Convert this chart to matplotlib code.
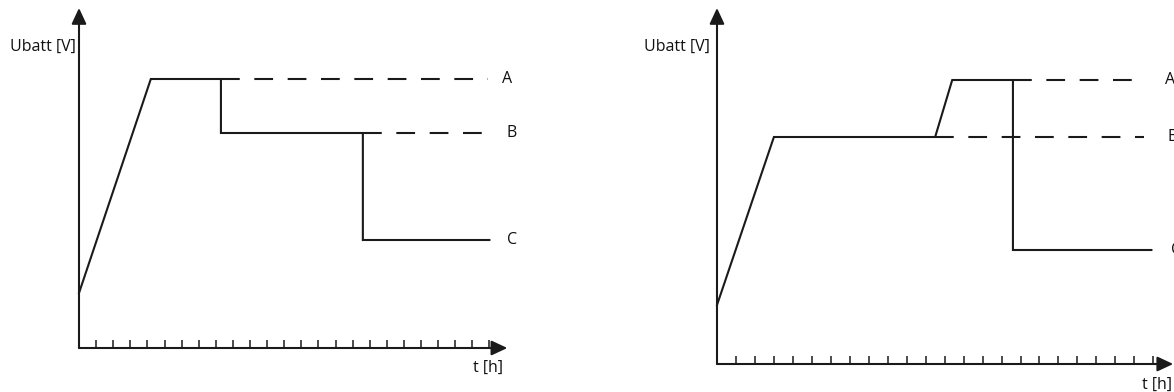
import matplotlib
matplotlib.use("Agg")
import matplotlib.pyplot as plt

plt.rcParams['font.family'] = ['Open Sans', 'DejaVu Sans']

# ---------------- data (time in tick units [h], voltage in arbitrary units) ----------
# Left panel
left_t = [0, 4.2, 8.3, 8.3, 16.6, 16.6, 24.0]
left_u = [5.5, 26.9, 26.9, 21.5, 21.5, 10.8, 10.8]
left_dash_a_t = [8.3, 23.9]
left_dash_b_t = [16.6, 23.9]
left_levels = {"A": 26.9, "B": 21.5, "C": 10.8}
left_ticks = list(range(1, 25))

# Right panel
right_t = [0, 3.0, 11.5, 12.4, 15.6, 15.6, 22.9]
right_u = [5.9, 22.7, 22.7, 28.4, 28.4, 11.4, 11.4]
right_dash_a_t = [15.6, 22.5]
right_dash_b_t = [11.5, 22.5]
right_levels = {"A": 28.4, "B": 22.7, "C": 11.4}
right_ticks = list(range(1, 24))

y_label = "Ubatt [V]"
x_label = "t [h]"

W, H = 1174, 392
DPI = 100
fig = plt.figure(figsize=(W / DPI, H / DPI), dpi=DPI)
fig.patch.set_facecolor("white")

COL = "#1a1a1a"
TXT = "#111111"
LW = 1.5
DASH = (0, (9.0, 7.0))
FS = 11.5


def make_axes(x0_px, y0_px, px_per_x, px_per_y, x_right_px, y_top_px):
    width_px = x_right_px - x0_px
    height_px = y0_px - y_top_px
    ax = fig.add_axes([x0_px / W, (H - y0_px) / H, width_px / W, height_px / H])
    ax.set_xlim(0, width_px / px_per_x)
    ax.set_ylim(0, height_px / px_per_y)
    return ax


def draw_panel(ax, t, u, dash_a, dash_b, levels, ticks, x_tip, y_tip,
               lab_x, ylab_pos, xlab_pos):
    for s in ax.spines.values():
        s.set_visible(False)
    ax.set_yticks([])
    ax.set_xticks(ticks)
    ax.tick_params(axis='x', direction='in', length=5.5, width=1.1,
                   color=COL, labelbottom=False)
    ax.patch.set_alpha(0)
    arrow = dict(arrowstyle='-|>,head_length=0.6,head_width=0.28',
                 mutation_scale=16, lw=LW, color=COL, shrinkA=0, shrinkB=0)
    ax.annotate('', xy=(x_tip, 0), xytext=(0, 0), arrowprops=arrow,
                annotation_clip=False)
    ax.annotate('', xy=(0, y_tip), xytext=(0, 0), arrowprops=arrow,
                annotation_clip=False)
    ax.plot(t, u, color=COL, lw=LW, solid_joinstyle='miter', clip_on=False)
    ax.plot(dash_a, [levels["A"]] * 2, color=COL, lw=LW, linestyle=DASH,
            clip_on=False)
    ax.plot(dash_b, [levels["B"]] * 2, color=COL, lw=LW, linestyle=DASH,
            clip_on=False)
    for k, v in levels.items():
        ax.text(lab_x[k], v, k, ha='left', va='center', fontsize=FS,
                color=TXT, clip_on=False)
    ax.text(ylab_pos[0], ylab_pos[1], y_label, ha='right', va='center',
            fontsize=FS, color=TXT)
    ax.text(xlab_pos[0], xlab_pos[1], x_label, ha='center', va='center',
            fontsize=FS, color=TXT)


# left panel: origin at (79, 348) px, 17.1 px per hour, 10 px per voltage unit
axL = make_axes(79, 348, 17.1, 10.0, 79 + 26 * 17.1, 8)
draw_panel(axL, left_t, left_u, left_dash_a_t, left_dash_b_t, left_levels,
           left_ticks, x_tip=25.05, y_tip=34.0,
           lab_x={"A": 24.75, "B": 25.0, "C": 25.05},
           ylab_pos=(-0.2, 30.1), xlab_pos=(23.9, -2.0))

# right panel: origin at (717, 364) px, 18.97 px per hour
axR = make_axes(717, 364, 18.97, 10.0, 1174, 8)
draw_panel(axR, right_t, right_u, right_dash_a_t, right_dash_b_t, right_levels,
           right_ticks, x_tip=24.05, y_tip=35.6,
           lab_x={"A": 23.6, "B": 23.75, "C": 23.95},
           ylab_pos=(-0.35, 31.7), xlab_pos=(23.2, -2.1))

fig.savefig("out.png", dpi=DPI, facecolor="white")
